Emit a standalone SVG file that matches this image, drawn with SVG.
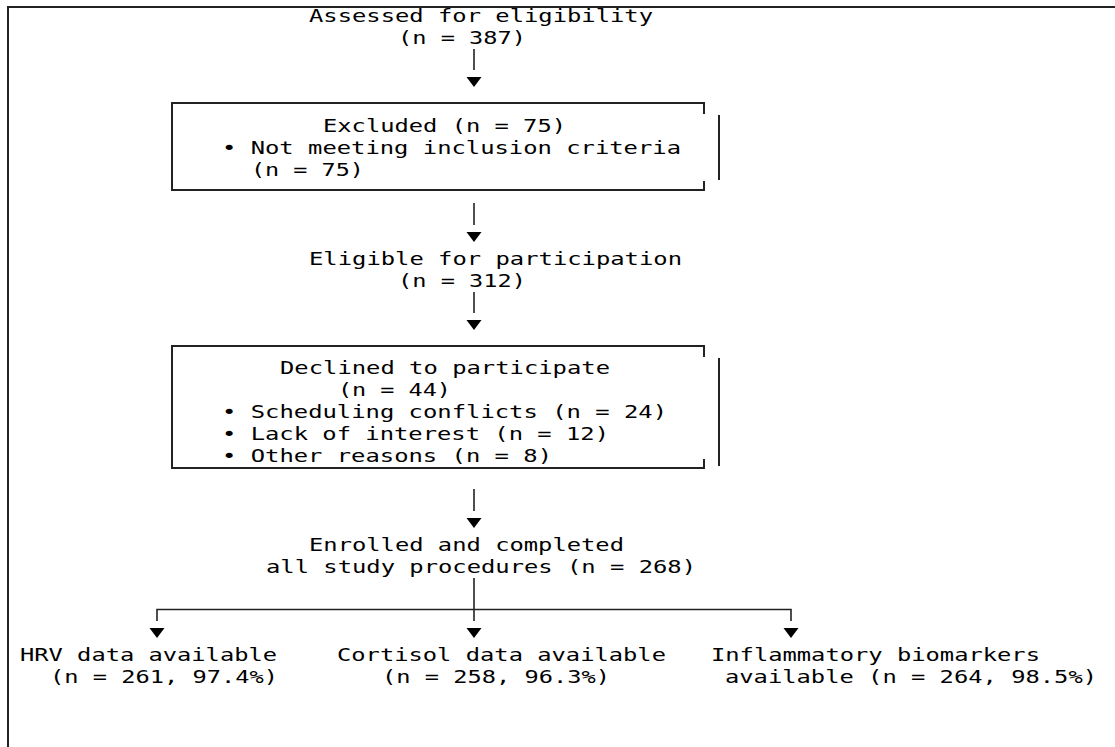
<svg xmlns="http://www.w3.org/2000/svg" width="1115" height="747" viewBox="0 0 1115 747">
<defs>
<style>
.t{font-family:"DejaVu Sans Mono","Liberation Mono",monospace;font-size:18.5px;fill:#000}
.b{fill:none;stroke:#222;stroke-width:2}
.c{fill:none;stroke:#222;stroke-width:1.6}
.h{fill:#000}
</style>
<polygon id="ah" class="h" points="-7.5,0 7.5,0 0,10"/>
</defs>
<rect width="1115" height="747" fill="#fff"/>
<path class="b" d="M8,747 V7 H1115"/>
<g id="n-assessed">
<text class="t" x="309" y="22" textLength="344" lengthAdjust="spacingAndGlyphs">Assessed for eligibility</text>
<text class="t" x="398" y="44" textLength="128" lengthAdjust="spacingAndGlyphs">(n = 387)</text>
</g>
<g id="n-excluded">
<path class="b" d="M704,114 V103 H172 V190 H704 V181"/>
<line class="b" x1="719" y1="115" x2="719" y2="180"/>
<text class="t" x="323" y="132" textLength="243" lengthAdjust="spacingAndGlyphs">Excluded (n = 75)</text>
<text class="t" x="222" y="154" textLength="459" lengthAdjust="spacingAndGlyphs">• Not meeting inclusion criteria</text>
<text class="t" x="251" y="176" textLength="113" lengthAdjust="spacingAndGlyphs">(n = 75)</text>
</g>
<g id="n-eligible">
<text class="t" x="309" y="265" textLength="373" lengthAdjust="spacingAndGlyphs">Eligible for participation</text>
<text class="t" x="398" y="287" textLength="128" lengthAdjust="spacingAndGlyphs">(n = 312)</text>
</g>
<g id="n-declined">
<path class="b" d="M704,357 V346 H172 V468 H704 V459"/>
<line class="b" x1="719" y1="358" x2="719" y2="466"/>
<text class="t" x="280" y="374" textLength="330" lengthAdjust="spacingAndGlyphs">Declined to participate</text>
<text class="t" x="338" y="396" textLength="113" lengthAdjust="spacingAndGlyphs">(n = 44)</text>
<text class="t" x="222" y="418" textLength="445" lengthAdjust="spacingAndGlyphs">• Scheduling conflicts (n = 24)</text>
<text class="t" x="222" y="440" textLength="387" lengthAdjust="spacingAndGlyphs">• Lack of interest (n = 12)</text>
<text class="t" x="222" y="462" textLength="330" lengthAdjust="spacingAndGlyphs">• Other reasons (n = 8)</text>
</g>
<g id="n-enrolled">
<text class="t" x="309" y="551" textLength="315" lengthAdjust="spacingAndGlyphs">Enrolled and completed</text>
<text class="t" x="266" y="573" textLength="430" lengthAdjust="spacingAndGlyphs">all study procedures (n = 268)</text>
</g>
<g id="n-hrv">
<text class="t" x="20" y="661" textLength="257" lengthAdjust="spacingAndGlyphs">HRV data available</text>
<text class="t" x="50" y="683" textLength="228" lengthAdjust="spacingAndGlyphs">(n = 261, 97.4%)</text>
</g>
<g id="n-cortisol">
<text class="t" x="337" y="661" textLength="329" lengthAdjust="spacingAndGlyphs">Cortisol data available</text>
<text class="t" x="382" y="683" textLength="228" lengthAdjust="spacingAndGlyphs">(n = 258, 96.3%)</text>
</g>
<g id="n-inflam">
<text class="t" x="711" y="661" textLength="329" lengthAdjust="spacingAndGlyphs">Inflammatory biomarkers</text>
<text class="t" x="725" y="683" textLength="372" lengthAdjust="spacingAndGlyphs">available (n = 264, 98.5%)</text>
</g>
<g id="connectors">
<line class="c" x1="474" y1="49" x2="474" y2="70"/>
<use href="#ah" x="474" y="77"/>
<line class="c" x1="474" y1="203" x2="474" y2="225"/>
<use href="#ah" x="474" y="232"/>
<line class="c" x1="474" y1="292" x2="474" y2="313"/>
<use href="#ah" x="474" y="320"/>
<line class="c" x1="474" y1="489" x2="474" y2="511"/>
<use href="#ah" x="474" y="518"/>
<line class="c" x1="474" y1="578" x2="474" y2="621"/>
<path class="c" d="M157,621 V609.5 H791 V621"/>
<use href="#ah" x="157" y="628"/>
<use href="#ah" x="474" y="628"/>
<use href="#ah" x="791" y="628"/>
</g>
</svg>
